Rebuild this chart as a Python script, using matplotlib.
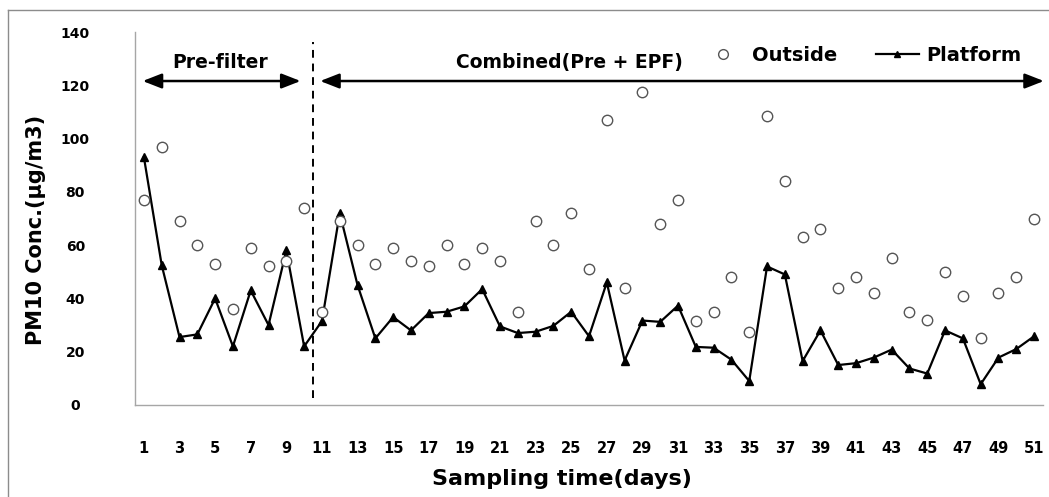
import matplotlib
matplotlib.use("Agg")
import matplotlib.pyplot as plt
from matplotlib.lines import Line2D

days = list(range(1, 52))
outside = [77, 97, 69, 60, 53, 36, 59, 52, 54, 74,
           35, 69, 60, 53, 59, 54, 52, 60, 53, 59,
           54, 35, 69, 60, 72, 51, 107, 44, 117.5, 68,
           77, 31.5, 35, 48, 27.5, 108.5, 84, 63, 66, 44,
           48, 42, 55, 35, 32, 50, 41, 25, 42, 48, 70]
platform = [93, 52.5, 25.5, 26.5, 40, 22, 43, 30, 58, 22,
            31.5, 72, 45, 25, 33, 28, 34.5, 35, 37, 43.5,
            29.5, 27, 27.5, 29.7, 35, 25.8, 46, 16.7, 31.7, 31.2,
            37.3, 21.8, 21.5, 17, 9, 52, 49, 16.5, 28, 15,
            15.7, 17.8, 20.8, 13.7, 11.8, 28, 25, 7.8, 17.8, 21, 25.8]
xtick_labels = [str(d) for d in range(1, 52, 2)]
yticks = [0, 20, 40, 60, 80, 100, 120, 140]
phase_labels = ["Pre-filter", "Combined(Pre + EPF)"]

W, H = 1049, 497
fig = plt.figure(figsize=(W / 100, H / 100), dpi=100)
ax = fig.add_axes([135 / W, 1 - 405 / H, (1043 - 135) / W, (405 - 32) / H])

ax.plot(days, platform, color="black", lw=1.6, marker="^", ms=5.5,
        mfc="black", mec="black", zorder=3, label="Platform")
ax.plot(days, outside, ls="none", marker="o", ms=7.5, mfc="white",
        mec="#555555", mew=1.0, zorder=4, label="Outside")

ax.set_xlim(0.5, 51.5)
ax.set_ylim(0, 140)

for s in ["top", "right"]:
    ax.spines[s].set_visible(False)
for s in ["left", "bottom"]:
    ax.spines[s].set_color("#a6a6a6")
    ax.spines[s].set_linewidth(1.0)

ax.set_xticks(range(1, 52, 2))
ax.set_xticklabels(xtick_labels, fontsize=10.5, fontweight="bold")
ax.set_yticks(yticks)
ax.set_yticklabels([str(v) for v in yticks], fontsize=10, fontweight="bold")
ax.tick_params(axis="x", length=0, pad=26)
ax.tick_params(axis="y", length=0, pad=43)
for lab in ax.get_yticklabels():
    lab.set_horizontalalignment("center")

# dashed separator
ax.plot([10.5, 10.5], [2.6, 136.4], color="black", lw=1.4, ls=(0, (4, 3)))

# phase arrows
ap = dict(arrowstyle="<|-|>,head_length=1.15,head_width=0.45", color="black",
          lw=1.8, shrinkA=0, shrinkB=0, mutation_scale=10)
ax.annotate("", xy=(0.93, 121.6), xytext=(9.8, 121.6), arrowprops=ap)
ax.annotate("", xy=(10.9, 121.6), xytext=(51.55, 121.6), arrowprops=ap,
            annotation_clip=False)
ax.text(5.3, 128.5, phase_labels[0], ha="center", va="center",
        fontsize=13.5, fontweight="bold")
ax.text(24.9, 128.6, phase_labels[1], ha="center", va="center",
        fontsize=13.5, fontweight="bold")

handles = [Line2D([], [], ls="none", marker="o", ms=7, mfc="white", mec="#555555"),
           Line2D([], [], color="black", lw=1.6, marker="^", ms=4.5)]
leg = ax.legend(handles, ["Outside", "Platform"], ncol=2, frameon=False,
                loc="center", bbox_to_anchor=(0.80, 0.938),
                prop=dict(size=14, weight="bold"), handlelength=2.2,
                handletextpad=0.4, columnspacing=2.0)

fig.text(36 / W, 1 - 230 / H, "PM10 Conc.(\u00b5g/m3)", rotation=90,
         ha="center", va="center", fontsize=15, fontweight="bold")
fig.text(562 / W, 1 - 479 / H, "Sampling time(days)", ha="center",
         va="center", fontsize=16, fontweight="bold")

# outer chart border
fig.add_artist(Line2D([8 / W, 8 / W], [0, 1 - 10 / H], transform=fig.transFigure,
                      color="#8c8c8c", lw=1.0))
fig.add_artist(Line2D([8 / W, 1], [1 - 10 / H, 1 - 10 / H], transform=fig.transFigure,
                      color="#8c8c8c", lw=1.0))

fig.savefig("out.png", dpi=100)
